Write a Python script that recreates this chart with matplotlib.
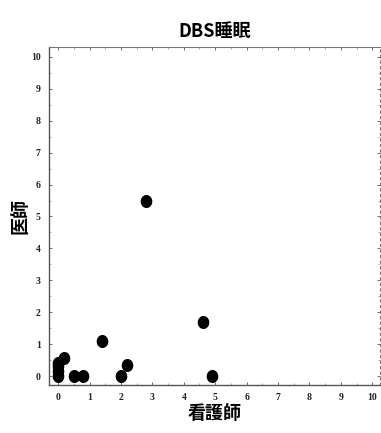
import matplotlib
matplotlib.use("Agg")
import matplotlib.pyplot as plt
from matplotlib.path import Path
from matplotlib.ticker import MultipleLocator
import numpy as np

plt.rcParams['font.family'] = ['Noto Sans CJK JP', 'DejaVu Sans']

title = "DBS睡眠"
x_label = "看護師"
y_label = "医師"

# Nurse rating (x) vs. physician rating (y)
nurse = [0.0, 0.0, 0.0, 0.0, 0.2, 0.5, 0.8, 1.4, 2.0, 2.2, 2.8, 4.6, 4.9]
doctor = [0.0, 0.15, 0.3, 0.4, 0.55, 0.0, 0.0, 1.1, 0.0, 0.35, 5.5, 1.7, 0.0]

ticks = list(range(0, 11))
tick_labels = [str(t) for t in ticks]

fig = plt.figure(figsize=(3.81, 4.33), dpi=100)
ax = fig.add_axes([0.1286, 0.1109, 0.869, 0.7806])

# slightly tall oval marker
theta = np.linspace(0, 2 * np.pi, 40)
oval = Path(np.column_stack([0.88 * np.cos(theta), np.sin(theta)]))
ax.scatter(nurse, doctor, marker=oval, s=70, color='black', zorder=3, clip_on=False)

ax.set_xlim(-0.29, 10.25)
ax.set_ylim(-0.28, 10.31)
ax.set_xticks(ticks)
ax.set_yticks(ticks)
ax.set_xticklabels(tick_labels, family='Liberation Serif', fontsize=7, fontweight='bold')
ax.set_yticklabels(tick_labels, family='Liberation Serif', fontsize=7, fontweight='bold')
ax.xaxis.set_minor_locator(MultipleLocator(0.5))
ax.yaxis.set_minor_locator(MultipleLocator(0.5))
ax.tick_params(which='major', direction='in', length=2.5, width=0.6,
               top=True, right=True, colors='#555555', labelcolor='#222222', pad=6)
ax.tick_params(which='minor', direction='in', length=1.2, width=0.5,
               top=True, right=True, colors='#888888')

for side in ('left', 'bottom'):
    ax.spines[side].set_color('#555555')
    ax.spines[side].set_linewidth(1.0)
for side in ('top', 'right'):
    ax.spines[side].set_color('#777777')
    ax.spines[side].set_linewidth(0.8)
ax.spines['right'].set_linestyle((0, (2, 3)))

ax.set_title(title, fontsize=13, fontweight='bold', pad=7)
ax.set_xlabel(x_label, fontsize=13, fontweight='bold', labelpad=1)
ax.set_ylabel(y_label, fontsize=13, fontweight='bold', labelpad=1)

fig.savefig("out.png", dpi=100)
